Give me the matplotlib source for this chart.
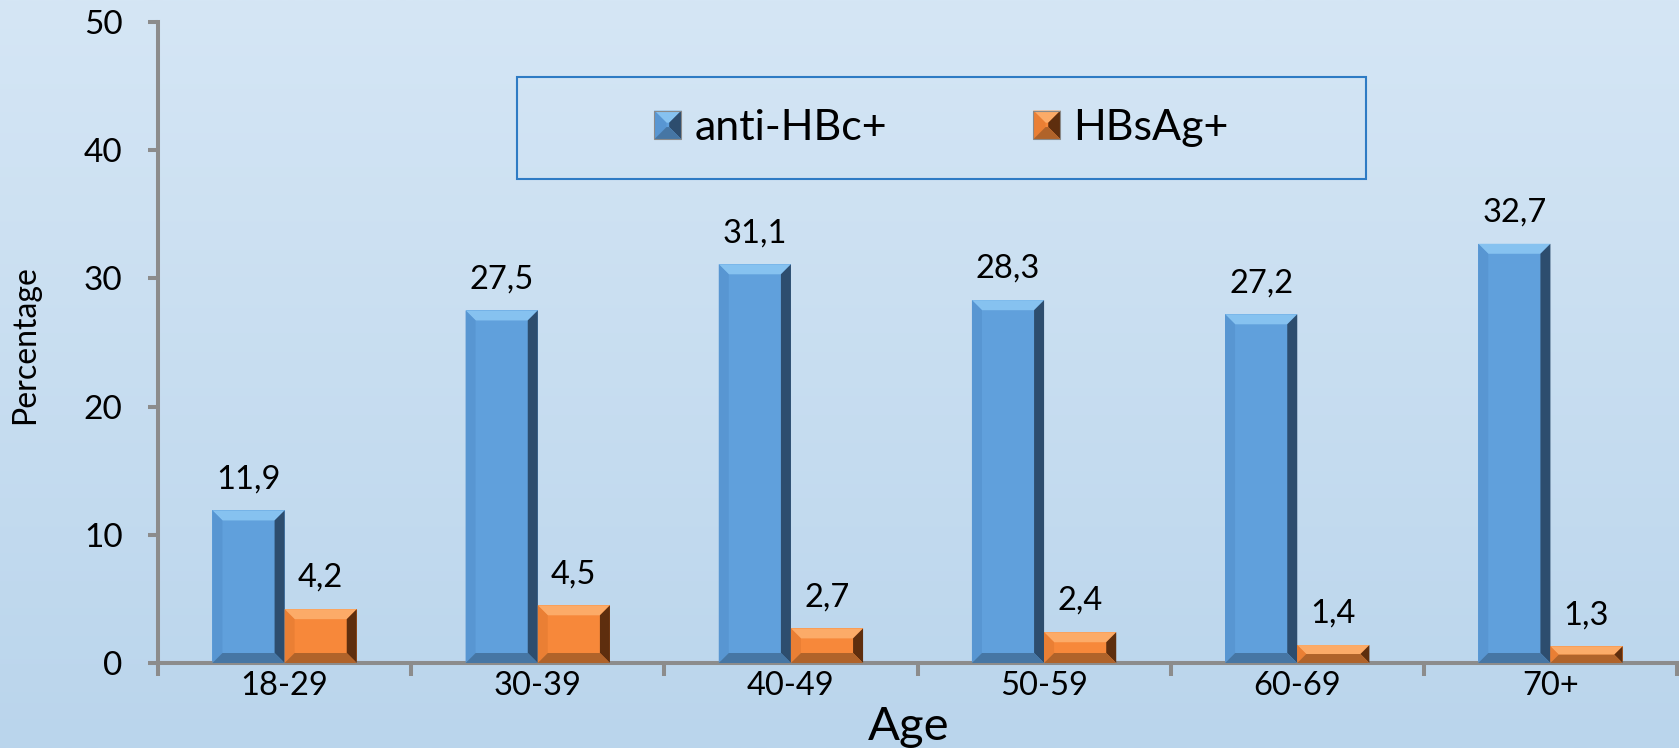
import numpy as np
import matplotlib.pyplot as plt
from matplotlib.patches import Polygon, Rectangle
from matplotlib.legend_handler import HandlerBase

plt.rcParams["font.family"] = ["Lato", "DejaVu Sans"]

ages = ["18-29", "30-39", "40-49", "50-59", "60-69", "70+"]
anti_hbc = [11.9, 27.5, 31.1, 28.3, 27.2, 32.7]
hbsag = [4.2, 4.5, 2.7, 2.4, 1.4, 1.3]
series_names = ["anti-HBc+", "HBsAg+"]

# face, top, left, right, bottom
BLUE = ["#60a0dc", "#86c2f0", "#5896d2", "#2d4d6e", "#4676a4"]
ORANGE = ["#f7883a", "#fcab68", "#ea7f34", "#5e2e0e", "#b0632a"]

W, H = 1679, 748
AX_L, AX_R, AX_T, AX_B = 158, 1677, 22, 663
BAR_W = 0.285
BEVEL_PX = 10


def bevel_polys(x, y, w, h, bx, by):
    x1, y1 = x + w, y + h
    top = [(x, y1), (x1, y1), (x1 - bx, y1 - by), (x + bx, y1 - by)]
    bot = [(x, y), (x1, y), (x1 - bx, y + by), (x + bx, y + by)]
    left = [(x, y), (x, y1), (x + bx, y1 - by), (x + bx, y + by)]
    right = [(x1, y), (x1, y1), (x1 - bx, y1 - by), (x1 - bx, y + by)]
    return top, left, right, bot


def add_bevel(ax, bars, shades, px_x, px_y):
    for p in bars.patches:
        x, y, w, h = p.get_x(), p.get_y(), p.get_width(), p.get_height()
        b = min(BEVEL_PX, h * px_y / 2.0)
        polys = bevel_polys(x, y, w, h, b / px_x, b / px_y)
        for poly, col in zip(polys, shades[1:]):
            ax.add_patch(Polygon(poly, closed=True, fc=col, ec="none", zorder=3))


class BevelHandler(HandlerBase):
    def __init__(self, shades):
        super().__init__()
        self.shades = shades

    def create_artists(self, legend, orig_handle, xdescent, ydescent,
                       width, height, fontsize, trans):
        x, y = -xdescent, -ydescent
        b = min(width, height) * 0.45
        arts = [Rectangle((x, y), width, height, fc=self.shades[0], ec="none",
                          transform=trans)]
        for poly, col in zip(bevel_polys(x, y, width, height, b, b), self.shades[1:]):
            arts.append(Polygon(poly, closed=True, fc=col, ec="none", transform=trans))
        arts.append(Rectangle((x, y), width, height, fill=False, ec="#8a8a8a",
                              lw=0.8, transform=trans))
        return arts


fig = plt.figure(figsize=(W / 100, H / 100), dpi=100)

# gradient background
bg = fig.add_axes([0, 0, 1, 1], zorder=-10)
top_c = np.array([0xd5, 0xe6, 0xf5]) / 255.0
bot_c = np.array([0xba, 0xd5, 0xec]) / 255.0
t = np.linspace(0, 1, 256)[:, None]
grad = top_c[None, :] * (1 - t) + bot_c[None, :] * t
bg.imshow(grad[:, None, :], aspect="auto", extent=[0, 1, 0, 1])
bg.axis("off")

ax = fig.add_axes([AX_L / W, (H - AX_B) / H, (AX_R - AX_L) / W, (AX_B - AX_T) / H])
ax.patch.set_visible(False)

x = np.arange(len(ages))
ax.set_xlim(-0.5, len(ages) - 0.5)
ax.set_ylim(0, 50)
px_x = (AX_R - AX_L) / len(ages)
px_y = (AX_B - AX_T) / 50.0

b1 = ax.bar(x - BAR_W / 2, anti_hbc, BAR_W, color=BLUE[0], zorder=2)
b2 = ax.bar(x + BAR_W / 2, hbsag, BAR_W, color=ORANGE[0], zorder=2)
add_bevel(ax, b1, BLUE, px_x, px_y)
add_bevel(ax, b2, ORANGE, px_x, px_y)

for bars, vals in ((b1, anti_hbc), (b2, hbsag)):
    for p, v in zip(bars.patches, vals):
        ax.annotate(f"{v:.1f}".replace(".", ","),
                    (p.get_x() + p.get_width() / 2, v),
                    xytext=(0, 16), textcoords="offset points",
                    ha="center", va="baseline", fontsize=23.5, color="black")

for s in ("top", "right"):
    ax.spines[s].set_visible(False)
for s in ("left", "bottom"):
    ax.spines[s].set_color("#8c8c8c")
    ax.spines[s].set_linewidth(2.9)

ax.set_yticks(range(0, 51, 10))
ax.tick_params(axis="y", direction="out", length=7.5, width=2.9,
               color="#8c8c8c", labelsize=24, pad=18)
ax.set_xticks(x)
ax.set_xticklabels(ages)
ax.set_xticks(np.arange(-0.5, len(ages)), minor=True)
ax.tick_params(axis="x", which="major", length=0, labelsize=23.5, pad=6)
ax.tick_params(axis="x", which="minor", direction="out", length=9,
               width=2.9, color="#8c8c8c")

leg = ax.legend([b1, b2], series_names,
                handler_map={b1: BevelHandler(BLUE), b2: BevelHandler(ORANGE)},
                loc="center", bbox_to_anchor=(941.5 / W, 1 - 128 / H),
                bbox_transform=fig.transFigure, ncol=2, frameon=False,
                fontsize=31, handlelength=0.63, handleheight=0.65,
                handletextpad=0.3, columnspacing=3.4)
fig.add_artist(Rectangle((517 / W, 1 - 179 / H), 849 / W, 102 / H,
                         transform=fig.transFigure, fill=False,
                         ec="#2e7bc4", lw=1.5))

fig.text(909 / W, 8 / H, "Age", ha="center", va="baseline", fontsize=34)
fig.text(25 / W, 1 - 345 / H, "Percentage", rotation=90, ha="center",
         va="center", fontsize=23)

fig.savefig("out.png", dpi=100)
